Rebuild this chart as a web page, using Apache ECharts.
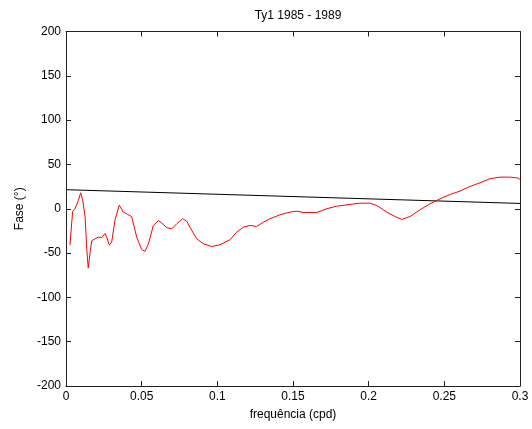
<!DOCTYPE html>
<html>
<head>
<meta charset="utf-8">
<script src="https://cdn.jsdelivr.net/npm/echarts@6/dist/echarts.min.js"></script>
<style>html,body{margin:0;padding:0;background:#fff}#c{width:532px;height:429px}</style>
</head>
<body>
<div id="c"></div>
<script>
const title = "Ty1 1985 - 1989";
const xName = "frequência (cpd)";
const yName = "Fase (°)";
const xTicks = [0, 0.05, 0.1, 0.15, 0.2, 0.25, 0.3];
const yTicks = [-200, -150, -100, -50, 0, 50, 100, 150, 200];

const redFreq = [0.0026,0.0044,0.0059,0.0071,0.0081,0.0097,0.011,0.0126,0.0137,0.0147,0.0159,0.017,0.018,0.0213,0.0236,0.0258,0.0269,0.0286,0.0302,0.0324,0.0352,0.0379,0.0401,0.0434,0.0467,0.05,0.0522,0.0544,0.0577,0.061,0.0633,0.0666,0.0699,0.0732,0.0771,0.0798,0.0831,0.0864,0.0907,0.0963,0.1018,0.1084,0.1128,0.1172,0.1216,0.126,0.1304,0.1348,0.1414,0.148,0.1525,0.1568,0.1657,0.1723,0.1789,0.1877,0.1943,0.2009,0.2054,0.212,0.2174,0.2219,0.2274,0.234,0.2406,0.2472,0.2538,0.2604,0.267,0.2736,0.2802,0.2868,0.2935,0.2989,0.3];
const redPhase = [-41,-3,0,1,9,18,10,-9,-45,-67,-50,-36,-34,-32,-32.5,-28,-32,-41,-37.6,-12.6,4,-3.8,-5.6,-9,-32,-46,-48,-40,-19,-13.5,-16,-21.4,-22.6,-16.9,-11.3,-14,-24.5,-33.9,-39.5,-42.6,-40.6,-35,-26.4,-20.8,-18.8,-20,-15.1,-11.3,-6.8,-3.8,-2.7,-4.2,-4.2,0,2.9,4.9,6.3,6.3,3.7,-3.8,-8.7,-12.1,-8.7,-1.1,5.6,11.3,16.1,19.9,25.2,29.3,33.9,35.7,35.7,34.5,33];
const blackFreq = [0, 0.3];
const blackPhase = [21.5, 6];

const zip = (a, b) => a.map((v, i) => [v, b[i]]);
const font = "Liberation Sans, Arial, sans-serif";
const axisColor = "#222";

const chart = echarts.init(document.getElementById('c'), null, {renderer: 'canvas'});
const baseX = {
  type: 'value', min: 0, max: 0.3, interval: 0.05,
  axisLine: {show: true, onZero: false, lineStyle: {color: axisColor, width: 1}},
  axisTick: {show: true, inside: true, length: 5, lineStyle: {color: axisColor}},
  splitLine: {show: false}
};
const baseY = {
  type: 'value', min: -200, max: 200, interval: 50,
  axisLine: {show: true, onZero: false, lineStyle: {color: axisColor, width: 1}},
  axisTick: {show: true, inside: true, length: 5, lineStyle: {color: axisColor}},
  splitLine: {show: false}
};
chart.setOption({
  animation: false,
  backgroundColor: '#fff',
  title: {text: title, left: 293, top: 5, textAlign: 'center',
    textStyle: {fontFamily: font, fontSize: 12, fontWeight: 'normal', color: '#000'}},
  grid: {left: 66, right: 12, top: 31.5, bottom: 43, containLabel: false},
  xAxis: [
    Object.assign({}, baseX, {position: 'bottom', name: xName, nameLocation: 'middle', nameGap: 23,
      nameTextStyle: {fontFamily: font, fontSize: 12, color: '#000'},
      axisLabel: {show: true, fontFamily: font, fontSize: 12, color: '#000', margin: 5,
        formatter: v => String(parseFloat(v.toFixed(2)))}}),
    Object.assign({}, baseX, {position: 'top', axisLabel: {show: false}})
  ],
  yAxis: [
    Object.assign({}, baseY, {position: 'left', name: yName, nameLocation: 'middle', nameGap: 39, nameRotate: 90,
      nameTextStyle: {fontFamily: font, fontSize: 12, color: '#000'},
      axisLabel: {show: true, fontFamily: font, fontSize: 12, color: '#000', margin: 5}}),
    Object.assign({}, baseY, {position: 'right', axisLabel: {show: false}})
  ],
  series: [
    {type: 'line', data: zip(blackFreq, blackPhase), showSymbol: false, symbol: 'none',
      lineStyle: {color: '#000', width: 1}, z: 2},
    {type: 'line', data: zip(redFreq, redPhase), showSymbol: false, symbol: 'none',
      lineStyle: {color: '#ff0000', width: 1}, z: 3}
  ]
});
</script>
</body>
</html>
